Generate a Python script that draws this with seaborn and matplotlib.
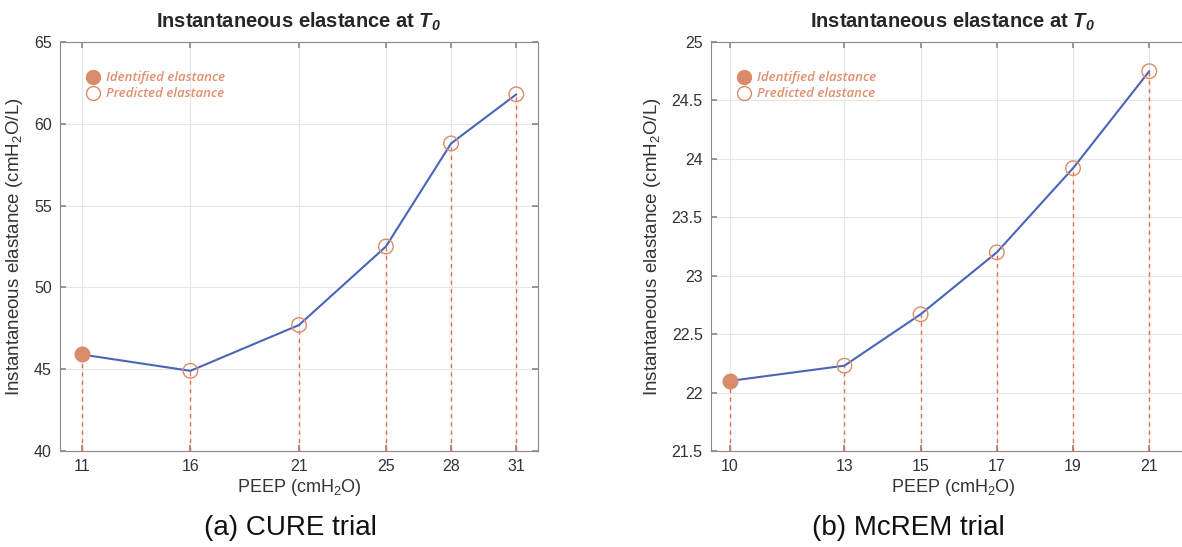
import matplotlib
matplotlib.use("Agg")
import matplotlib.pyplot as plt
import seaborn as sns
import pandas as pd
from matplotlib.lines import Line2D
from matplotlib.ticker import FuncFormatter

# ---- data ----
cure_peep = [11, 16, 21, 25, 28, 31]
cure_elast = [45.9, 44.9, 47.7, 52.5, 58.8, 61.8]
mcrem_peep = [10, 13, 15, 17, 19, 21]
mcrem_elast = [22.10, 22.23, 22.67, 23.20, 23.92, 24.75]
cure_yticks = [40, 45, 50, 55, 60, 65]
mcrem_yticks = [21.5, 22, 22.5, 23, 23.5, 24, 24.5, 25]
title = r"Instantaneous elastance at $\mathbfit{T}_{\mathbfit{0}}$"
captions = ["(a) CURE trial", "(b) McREM trial"]
legend_labels = ["Identified elastance", "Predicted elastance"]

sns.set_theme(style="white")
plt.rcParams["font.family"] = ["Liberation Sans", "DejaVu Sans"]
plt.rcParams["mathtext.fontset"] = "custom"
plt.rcParams["mathtext.rm"] = "Liberation Sans"
plt.rcParams["mathtext.it"] = "Liberation Sans:italic"
plt.rcParams["mathtext.bf"] = "Liberation Sans:bold"
plt.rcParams["mathtext.bfit"] = "Liberation Sans:bold:italic"

LINE = "#4a64b8"
MARK = "#d98c6a"
DASH = "#ec6e45"
LEG = "#e0906e"

W, H = 1182, 547
fig = plt.figure(figsize=(W / 100, H / 100), dpi=100)
ax1 = fig.add_axes([60 / W, (H - 451) / H, 478 / W, 409 / H])
ax2 = fig.add_axes([711 / W, (H - 451) / H, 484 / W, 409 / H])

panels = [
    (ax1, cure_peep, cure_elast, cure_yticks, (10, 32)),
    (ax2, mcrem_peep, mcrem_elast, mcrem_yticks, (9.5, 22.2)),
]

for ax, xs, ys, yt, xl in panels:
    df = pd.DataFrame({"PEEP": xs, "E": ys})
    ylo = yt[0]
    ax.vlines(xs, ylo, ys, colors=DASH, linestyles=(0, (3, 3)), linewidth=1.0, zorder=2)
    sns.lineplot(data=df, x="PEEP", y="E", ax=ax, color=LINE, linewidth=1.5, zorder=3)
    sns.scatterplot(data=df.iloc[1:], x="PEEP", y="E", ax=ax, s=110, marker="o",
                    facecolor="none", edgecolor=MARK, linewidth=1.0, zorder=4)
    sns.scatterplot(data=df.iloc[:1], x="PEEP", y="E", ax=ax, s=110, marker="o",
                    color=MARK, edgecolor=MARK, linewidth=1.0, zorder=4)
    ax.set_xlim(*xl)
    ax.set_ylim(yt[0], yt[-1])
    ax.set_xticks(xs)
    ax.set_yticks(yt)
    ax.yaxis.set_major_formatter(FuncFormatter(lambda v, p: f"{v:g}"))
    ax.grid(True, color="#e6e6e6", linewidth=0.8)
    ax.set_axisbelow(True)
    for s in ax.spines.values():
        s.set_color("#8a8a8a")
        s.set_linewidth(0.8)
    ax.tick_params(direction="in", length=4, color="#8a8a8a", top=True, right=True,
                   bottom=True, left=True, labelsize=11.5, labelcolor="#333333", pad=6)
    ax.set_xlabel(r"PEEP (cmH$_2$O)", fontsize=13, color="#333333", labelpad=2)
    ax.set_ylabel(r"Instantaneous elastance (cmH$_2$O/L)", fontsize=13.5, color="#333333", labelpad=6)
    ax.set_title(title, fontsize=14.5, fontweight="bold", pad=10)
    handles = [
        Line2D([], [], marker="o", linestyle="none", markersize=10, markerfacecolor=MARK,
               markeredgecolor=MARK),
        Line2D([], [], marker="o", linestyle="none", markersize=10, markerfacecolor="none",
               markeredgecolor=MARK, markeredgewidth=1.0),
    ]
    ax.legend(handles, legend_labels, loc="upper left",
              bbox_to_anchor=(18 / ax.get_position().width / W, 0.948), frameon=False,
              prop={"family": "Open Sans", "style": "italic", "weight": "semibold", "size": 9.5},
              labelcolor=LEG, handletextpad=0.5, labelspacing=0.25, handlelength=1.0,
              borderaxespad=0.2)

fig.text(290 / W, 1 - 528 / H, captions[0], ha="center", va="center", fontsize=20, color="#111111")
fig.text(908 / W, 1 - 528 / H, captions[1], ha="center", va="center", fontsize=20, color="#111111")

fig.savefig("out.png", dpi=100)
